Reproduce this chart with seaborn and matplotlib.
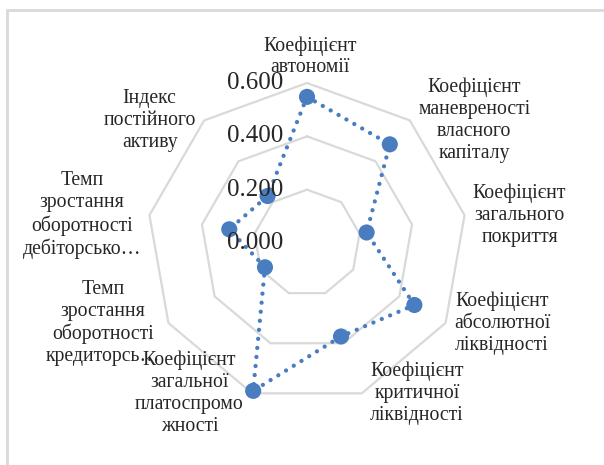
import matplotlib.pyplot as plt
import numpy as np
import pandas as pd
import seaborn as sns

# Categories (clockwise from the top) and values
categories = [
    "Коефіцієнт\nавтономії",
    "Коефіцієнт\nманевреності\nвласного\nкапіталу",
    "Коефіцієнт\nзагального\nпокриття",
    "Коефіцієнт\nабсолютної\nліквідності",
    "Коефіцієнт\nкритичної\nліквідності",
    "Коефіцієнт\nзагальної\nплатоспромо\nжності",
    "Темп\nзростання\nоборотності\nкредиторсь…",
    "Темп\nзростання\nоборотності\nдебіторсько…",
    "Індекс\nпостійного\nактиву",
]
values = [0.548, 0.483, 0.227, 0.465, 0.373, 0.590, 0.182, 0.296, 0.230]
ring_values = [0.2, 0.4, 0.6]
tick_values = [0.0, 0.2, 0.4, 0.6]
tick_labels = ["0.000", "0.200", "0.400", "0.600"]

sns.set_style("white")
plt.rcParams["font.family"] = ["Liberation Serif", "DejaVu Serif"]

blue = "#4a7dbf"
grid_gray = "#d9d9d9"

n = len(categories)
angles = np.linspace(0, 2 * np.pi, n, endpoint=False)
df = pd.DataFrame({"angle": angles, "value": values})
# close the polygon: repeat first point at angle 2*pi
closed = pd.concat([df, df.iloc[[0]].assign(angle=2 * np.pi)], ignore_index=True)

fig = plt.figure(figsize=(6.04, 4.65), dpi=100)

# light frame around the chart area
frame = plt.Rectangle((0.012, -0.02), 1.0, 0.998, transform=fig.transFigure,
                      fill=False, edgecolor=grid_gray, linewidth=2)
fig.patches.append(frame)

cx, cy, rad = 307 / 604, 1 - 243 / 465, 160
ax = fig.add_axes([cx - rad / 604, cy - rad / 465, 2 * rad / 604, 2 * rad / 465],
                  projection="polar")
ax.set_theta_offset(np.pi / 2)
ax.set_theta_direction(-1)
ax.set_ylim(0, 0.6)
ax.grid(False)
ax.set_xticks([])
ax.set_yticks([])
ax.spines["polar"].set_visible(False)
ax.set_facecolor("none")

# nonagon grid rings
ring_angles = np.append(angles, angles[0])
for rv in ring_values:
    ax.plot(ring_angles, [rv] * len(ring_angles), color=grid_gray, lw=1.6,
            zorder=1, clip_on=False)

# dotted series line and markers
sns.lineplot(data=closed, x="angle", y="value", sort=False, estimator=None,
             ax=ax, color=blue, lw=3.1, linestyle=(0, (0.01, 2.1)),
             zorder=3, clip_on=False)
ax.lines[-1].set_dash_capstyle("round")
sns.scatterplot(data=df, x="angle", y="value", ax=ax, color=blue, s=135,
                edgecolor="none", zorder=4, clip_on=False)
ax.set_xlabel("")
ax.set_ylabel("")

# radial tick labels along the top axis
for tv, tl in zip(tick_values, tick_labels):
    ax.annotate(tl, xy=(0, tv), xytext=(-17, 0), textcoords="offset points",
                ha="right", va="center", fontsize=18, zorder=6,
                annotation_clip=False)

# category labels just outside the outer ring
for ang, lab in zip(angles, categories):
    deg = np.degrees(ang)
    if deg < 1:
        ha, va, off = "center", "bottom", (2, 4)
    elif deg < 180:
        ha, va, off = "left", "center", (6, 0)
    else:
        ha, va, off = "right", "center", (-6, 0)
    ax.annotate(lab, xy=(ang, 0.6), xytext=off, textcoords="offset points",
                ha=ha, va=va, multialignment="center", fontsize=14.2,
                linespacing=1.2, annotation_clip=False, zorder=5)

fig.savefig("out.png", dpi=100)
